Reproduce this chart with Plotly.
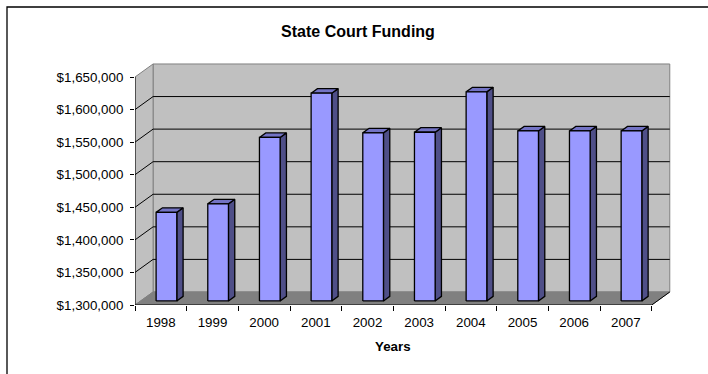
import plotly.graph_objects as go

# ---- data ----
years = ["1998", "1999", "2000", "2001", "2002", "2003", "2004", "2005", "2006", "2007"]
funding = [1436000, 1449000, 1551000, 1619000, 1558000, 1559000, 1621000, 1561000, 1561000, 1561000]
y_ticks = [1300000, 1350000, 1400000, 1450000, 1500000, 1550000, 1600000, 1650000]

# ---- pseudo-3D geometry (category units on x, dollars on y) ----
BASE, TOP = y_ticks[0], y_ticks[-1]
DX, DY = 0.35, 20000          # depth offset of the back wall
F1, F2 = 0.31, 0.66           # front / back depth of the columns
HALF = 0.2                    # half width of a column face
n = len(years)
left, right = -0.5, n - 0.5

WALL = "#C0C0C0"
WALL_EDGE = "#808080"
FLOOR = "#808080"
FRONT = "#9999FF"
TOPC = "#7373C4"
SIDE = "#4F4F88"
FONT = "Liberation Sans, Arial, sans-serif"

fig = go.Figure()


def poly(xs, ys, fill, line_color, width=1.0):
    fig.add_trace(go.Scatter(x=xs, y=ys, mode="lines", fill="toself", fillcolor=fill,
                             line=dict(color=line_color, width=width), hoverinfo="skip",
                             showlegend=False))


def seg(xs, ys, color, width=1.0):
    fig.add_trace(go.Scatter(x=xs, y=ys, mode="lines", line=dict(color=color, width=width),
                             hoverinfo="skip", showlegend=False, connectgaps=False))


# back wall
poly([left + DX, right + DX, right + DX, left + DX, left + DX],
     [BASE + DY, BASE + DY, TOP + DY, TOP + DY, BASE + DY], WALL, WALL_EDGE)
# side wall
poly([left, left + DX, left + DX, left, left],
     [BASE, BASE + DY, TOP + DY, TOP, BASE], WALL, WALL_EDGE)
# floor
poly([left, right, right + DX, left + DX, left],
     [BASE, BASE, BASE + DY, BASE + DY, BASE], FLOOR, FLOOR)

# gridlines on back and side walls
gx, gy = [], []
for v in y_ticks[1:-1]:
    gx += [left, left + DX, right + DX, None]
    gy += [v, v + DY, v + DY, None]
seg(gx, gy, "black", 1.0)

# front axis line, front floor edge and right floor edge
seg([left, left, None, left, right, right + DX],
    [TOP, BASE, None, BASE, BASE, BASE + DY], "black", 1.0)

# columns: side, top, front faces
ddx, ddy = (F2 - F1) * DX, (F2 - F1) * DY
sx, sy, tx, ty, fx, fy = [], [], [], [], [], []
for i, v in enumerate(funding):
    x0 = i + F1 * DX - HALF
    x1 = i + F1 * DX + HALF
    yb = BASE + F1 * DY
    yt = v + F1 * DY
    sx += [x1, x1 + ddx, x1 + ddx, x1, x1, None]
    sy += [yb, yb + ddy, yt + ddy, yt, yb, None]
    tx += [x0, x1, x1 + ddx, x0 + ddx, x0, None]
    ty += [yt, yt, yt + ddy, yt + ddy, yt, None]
    fx += [x0, x1, x1, x0, x0, None]
    fy += [yb, yb, yt, yt, yb, None]
poly(sx, sy, SIDE, "black", 1.3)
poly(tx, ty, TOPC, "black", 1.3)
poly(fx, fy, FRONT, "black", 1.3)

# ---- layout ----
W, H = 708, 374
ML, MR, MT, MB = 135, 28, 60, 69
plot_w, plot_h = W - ML - MR, H - MT - MB
px_per_cat = 51.67
px_per_dollar = 32.57 / 50000
x_range = [left, left + plot_w / px_per_cat]
y_range = [BASE, BASE + plot_h / px_per_dollar]

fig.update_layout(
    width=W, height=H,
    margin=dict(l=ML, r=MR, t=MT, b=MB, pad=0),
    paper_bgcolor="white", plot_bgcolor="white",
    font=dict(family=FONT, size=13.33, color="black"),
    title=dict(text="<b>State Court Funding</b>", font=dict(size=16, family=FONT),
               x=(358 - ML) / plot_w, xref="paper", xanchor="center",
               y=1 - 31 / H, yref="container", yanchor="middle"),
    xaxis=dict(range=x_range, tickmode="array", tickvals=list(range(n)), ticktext=years,
               ticks="outside", ticklen=0, tickcolor="black", showgrid=False, zeroline=False,
               showline=False, ticklabelstandoff=5, fixedrange=True,
               minor=dict(tickmode="linear", tick0=-0.5, dtick=1, ticks="outside",
                          ticklen=5, tickcolor="black", tickwidth=1, showgrid=False)),
    yaxis=dict(range=y_range, tickmode="array", tickvals=y_ticks, tickformat="$,.0f",
               ticks="outside", ticklen=4, tickcolor="black", showgrid=False,
               zeroline=False, showline=False, ticklabelstandoff=4, fixedrange=True),
    annotations=[dict(text="<b>Years</b>", x=(n - 1) / 2, xref="x",
                      y=-(346 - (H - MB)) / plot_h, yref="paper",
                      showarrow=False, font=dict(size=13.33, family=FONT),
                      xanchor="center", yanchor="middle")],
    shapes=[dict(type="rect", xref="paper", yref="paper",
                 x0=(7 - ML) / plot_w, x1=(W + 20 - ML) / plot_w,
                 y0=-(H + 20 - (H - MB)) / plot_h, y1=1 + (MT - 7) / plot_h,
                 line=dict(color="black", width=1.3), fillcolor="rgba(0,0,0,0)", layer="above")],
)

fig.write_html("out.html")
